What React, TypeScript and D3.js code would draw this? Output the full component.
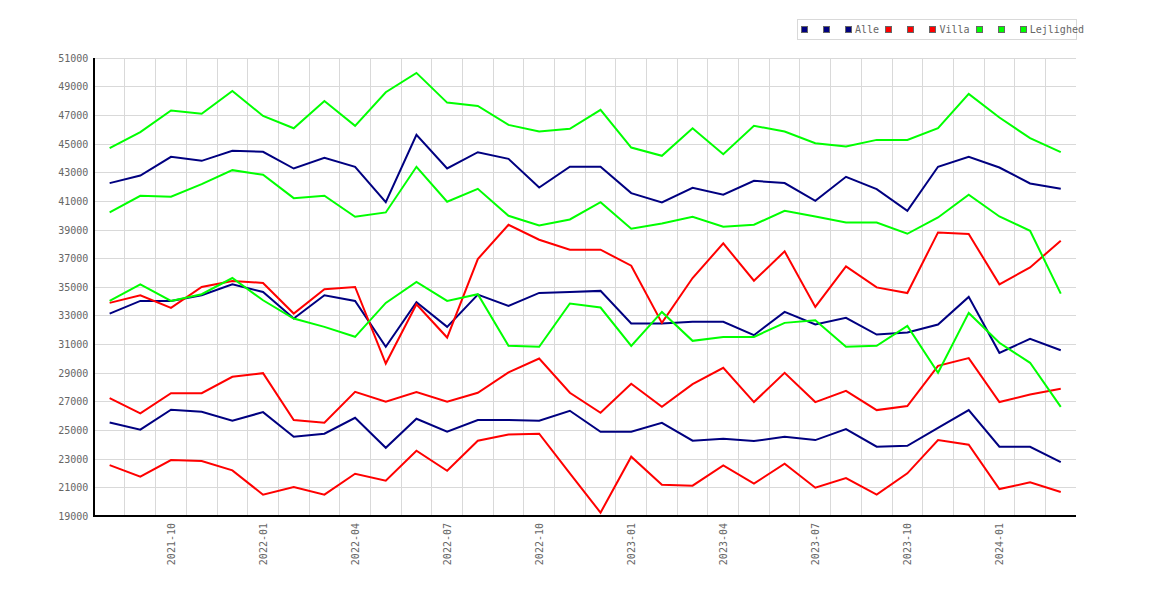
import React from "react";
import * as d3 from "d3";

const months = [
  "2021-08","2021-09","2021-10","2021-11","2021-12","2022-01","2022-02","2022-03",
  "2022-04","2022-05","2022-06","2022-07","2022-08","2022-09","2022-10","2022-11",
  "2022-12","2023-01","2023-02","2023-03","2023-04","2023-05","2023-06","2023-07",
  "2023-08","2023-09","2023-10","2023-11","2023-12","2024-01","2024-02","2024-03",
];

const tickMonths = ["2021-10","2022-01","2022-04","2022-07","2022-10","2023-01","2023-04","2023-07","2023-10","2024-01"];
const yTicks = [19000,21000,23000,25000,27000,29000,31000,33000,35000,37000,39000,41000,43000,45000,47000,49000,51000];

const alleHigh = [42280,42810,44115,43835,44535,44465,43300,44045,43420,40950,45650,43300,44440,43975,41975,43420,43420,41580,40930,41950,41465,42440,42280,41045,42720,41860,40345,43420,44115,43370,42255,41880];
const alleMid = [33165,34050,34050,34445,35210,34675,32815,34445,34050,30840,33955,32235,34490,33700,34610,34680,34750,32470,32470,32585,32585,31655,33280,32400,32865,31700,31840,32400,34330,30420,31400,30605];
const alleLow = [25560,25050,26445,26305,25675,26280,24560,24770,25885,23790,25815,24910,25720,25720,25675,26375,24910,24910,25535,24280,24420,24255,24560,24325,25095,23860,23930,25185,26420,23860,23860,22790];

const villaHigh = [33910,34445,33560,35025,35445,35305,33165,34865,35025,29675,33815,31490,36975,39370,38325,37625,37625,36510,32515,35650,38070,35460,37510,33630,36460,34995,34600,38835,38720,35210,36390,38255];
const villaMid = [27260,26190,27605,27605,28745,29000,25720,25535,27700,27000,27675,27000,27630,29050,30025,27630,26235,28260,26650,28235,29375,26980,29025,26980,27770,26420,26700,29515,30050,26980,27515,27910];
const villaLow = [22580,21770,22930,22860,22210,20510,21045,20510,21975,21490,23580,22185,24280,24720,24770,22000,19255,23165,21210,21140,22560,21280,22675,21000,21675,20510,22000,24325,24000,20905,21370,20700];

const lejHigh = [44720,45840,47350,47120,48720,46975,46115,48020,46280,48630,49980,47905,47675,46350,45885,46070,47395,44765,44185,46115,44300,46280,45885,45070,44835,45300,45300,46115,48510,46860,45420,44440];
const lejMid = [40230,41395,41325,42210,43185,42860,41230,41395,39930,40230,43420,40975,41880,39995,39325,39740,40950,39090,39465,39930,39230,39370,40345,39950,39530,39530,38740,39880,41465,39950,38950,34560];
const lejLow = [34050,35210,34050,34515,35650,34095,32815,32235,31540,33910,35375,34050,34515,30910,30840,33865,33585,30910,33280,31260,31535,31535,32515,32700,30840,30910,32305,29025,33210,31120,29725,26650];

const seriesLabels = ["", "", "Alle", "", "", "Villa", "", "", "Lejlighed"];
const seriesColors = ["#000080","#000080","#000080","#ff0000","#ff0000","#ff0000","#00ff00","#00ff00","#00ff00"];
const seriesValues = [alleHigh, alleMid, alleLow, villaHigh, villaMid, villaLow, lejHigh, lejMid, lejLow];

const W = 1170, H = 600;
const L = 94.3, R = 1076.1, T = 58.3, B = 516.3;
const FONT = "'DejaVu Sans Mono', monospace";
const TXT = "#666666";
const GRID = "#d9d9d9";

export default function App() {
  const x = d3.scaleBand<string>().domain(months).range([L, R]).padding(0);
  const y = d3.scaleLinear().domain([19000, 51000]).range([B, T]);
  const cx = (m: string) => (x(m) as number) + x.bandwidth() / 2;
  const line = d3.line<number>().x((_, i) => cx(months[i])).y((v) => y(v));

  // legend layout
  const legendItems: { x: number; color: string; label: string }[] = [];
  let lx = 801;
  seriesLabels.forEach((lab, i) => {
    legendItems.push({ x: lx, color: seriesColors[i], label: lab });
    lx += lab ? 10 + lab.length * 6.02 + 6.3 : 22;
  });

  return (
    <svg width={W} height={H} style={{ position: "absolute", left: 0, top: 0, background: "#fff" }}>
      {/* grid */}
      <g shapeRendering="crispEdges">
        {yTicks.slice(1).map((t) => (
          <line key={"h" + t} x1={L} x2={R} y1={y(t)} y2={y(t)} stroke={GRID} strokeWidth={1} />
        ))}
        {months.slice(1).map((m) => (
          <line key={"v" + m} x1={x(m)} x2={x(m)} y1={T} y2={B} stroke={GRID} strokeWidth={1} />
        ))}
      </g>
      {/* lines */}
      <g fill="none">
        {seriesValues.map((vals, i) => (
          <path key={i} d={line(vals) || ""} stroke={seriesColors[i]} strokeWidth={2} strokeLinejoin="miter" />
        ))}
      </g>
      {/* axes */}
      <g shapeRendering="crispEdges">
        <line x1={L} x2={L} y1={T} y2={B + 1} stroke="#000" strokeWidth={2} />
        <line x1={L - 1} x2={R} y1={B} y2={B} stroke="#000" strokeWidth={2} />
      </g>
      {/* y labels */}
      <g fontFamily={FONT} fontSize={10} fill={TXT}>
        {yTicks.map((t) => (
          <text key={t} x={88.3} y={y(t)} textAnchor="end" dominantBaseline="central">
            {t}
          </text>
        ))}
      </g>
      {/* x labels */}
      <g fontFamily={FONT} fontSize={10} fill={TXT}>
        {tickMonths.map((m) => (
          <text
            key={m}
            transform={`translate(${cx(m)},523) rotate(-90)`}
            textAnchor="end"
            dominantBaseline="central"
          >
            {m}
          </text>
        ))}
      </g>
      {/* legend */}
      <g>
        <rect x={797.5} y={19.5} width={279} height={19.5} fill="#fff" stroke="#d9d9d9" strokeWidth={1} shapeRendering="crispEdges" />
        {legendItems.map((it, i) => (
          <g key={i}>
            <rect x={it.x + 0.5} y={26.5} width={6} height={6} fill={it.color} stroke="#666" strokeWidth={1} shapeRendering="crispEdges" />
            {it.label && (
              <text x={it.x + 10} y={29.8} fontFamily={FONT} fontSize={10} fill={TXT} dominantBaseline="central">
                {it.label}
              </text>
            )}
          </g>
        ))}
      </g>
    </svg>
  );
}
